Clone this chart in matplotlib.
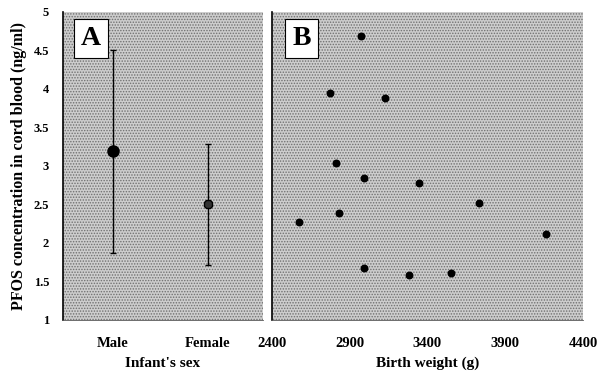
import matplotlib
matplotlib.use("Agg")
import matplotlib.pyplot as plt

# panel A: PFOS by infant's sex (mean and range)
sexes = ["Male", "Female"]
sex_mean = [3.2, 2.5]
sex_low = [1.87, 1.72]
sex_high = [4.51, 3.29]

# panel B: PFOS vs birth weight
birth_weight = [2975, 2775, 3130, 2815, 2995, 3345, 3730, 2830, 2575, 4160, 2990, 3280, 3550]
pfos = [4.69, 3.95, 3.88, 3.04, 2.84, 2.78, 2.52, 2.39, 2.27, 2.12, 1.68, 1.59, 1.61]

y_ticks = [1, 1.5, 2, 2.5, 3, 3.5, 4, 4.5, 5]
x_ticks = [2400, 2900, 3400, 3900, 4400]

plt.rcParams["font.family"] = ["Liberation Serif", "DejaVu Serif"]
plt.rcParams["font.weight"] = "bold"
plt.rcParams["hatch.color"] = "#707070"
plt.rcParams["hatch.linewidth"] = 0.7

fig = plt.figure(figsize=(6.07, 3.77), dpi=100)
ax_a = fig.add_axes([0.1038, 0.1512, 0.3295, 0.817])
ax_b = fig.add_axes([0.448, 0.1512, 0.5124, 0.817])


def style_panel(ax):
    ax.set_facecolor("#cdcdcd")
    ax.patch.set_hatch("......")
    ax.patch.set_edgecolor("#707070")
    for side in ["top", "right"]:
        ax.spines[side].set_visible(False)
    ax.spines["left"].set_linewidth(1.2)
    ax.spines["bottom"].set_linewidth(0.6)
    ax.spines["bottom"].set_color("#555555")
    ax.set_ylim(1, 5)
    ax.set_yticks(y_ticks)
    ax.tick_params(length=0)
    ax.tick_params(axis="x", pad=12, labelsize=10.5)
    ax.tick_params(axis="y", pad=10, labelsize=9)


style_panel(ax_a)
style_panel(ax_b)

# panel A
pos = [1, 2]
err_low = [m - lo for m, lo in zip(sex_mean, sex_low)]
err_high = [hi - m for m, hi in zip(sex_mean, sex_high)]
ax_a.errorbar(pos[0], sex_mean[0], yerr=[[err_low[0]], [err_high[0]]], fmt="o",
              color="black", ms=8, elinewidth=1, capsize=2, capthick=1)
ax_a.errorbar(pos[1], sex_mean[1], yerr=[[err_low[1]], [err_high[1]]], fmt="8",
              color="black", mfc="#333333", ms=6.5, elinewidth=1, capsize=2, capthick=1)
ax_a.set_xlim(0.474, 2.579)
ax_a.set_xticks(pos)
ax_a.set_xticklabels(sexes)
ax_a.set_yticklabels([f"{v:g}" for v in y_ticks])
ax_a.set_xlabel("Infant's sex", fontsize=11, fontweight="bold", labelpad=5)
ax_a.set_ylabel("PFOS concentration in cord blood (ng/ml)", fontsize=11.5,
                fontweight="bold", labelpad=5)
ax_a.text(0.14, 0.915, "A", transform=ax_a.transAxes, fontsize=20, fontweight="bold",
          ha="center", va="center",
          bbox=dict(boxstyle="square,pad=0.25", fc="white", ec="black", lw=0.8))

# panel B
ax_b.scatter(birth_weight, pfos, s=22, color="black", zorder=3)
ax_b.set_xlim(2400, 4400)
ax_b.set_xticks(x_ticks)
ax_b.set_yticklabels([])
ax_b.set_xlabel("Birth weight (g)", fontsize=11, fontweight="bold", labelpad=5)
ax_b.text(0.095, 0.915, "B", transform=ax_b.transAxes, fontsize=20, fontweight="bold",
          ha="center", va="center",
          bbox=dict(boxstyle="square,pad=0.25", fc="white", ec="black", lw=0.8))

fig.savefig("out.png", dpi=100)
